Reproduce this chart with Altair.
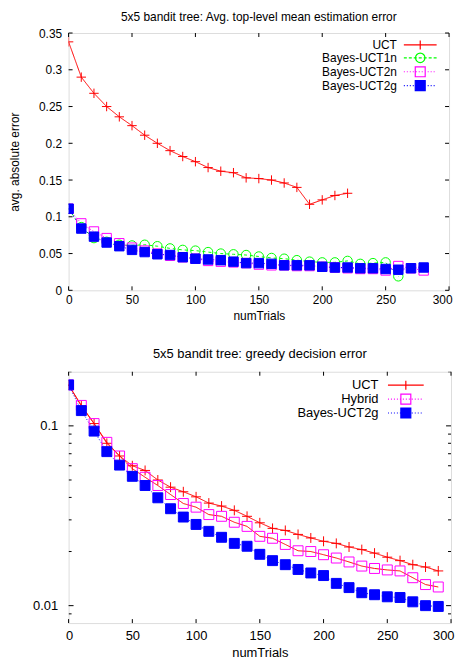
import altair as alt
import pandas as pd

FONT = "Liberation Sans"

# ---------------- data ----------------
top_title = "5x5 bandit tree: Avg. top-level mean estimation error"
bottom_title = "5x5 bandit tree: greedy decision error"
x_title = "numTrials"
y_title_top = "avg. absolute error"

top_series = ["UCT", "Bayes-UCT1n", "Bayes-UCT2n", "Bayes-UCT2g"]
top_colors = ["#ff0000", "#00ff00", "#ff00ff", "#0000ff"]

top_uct_x = list(range(0, 230, 10))
top_uct = [0.338, 0.290, 0.268, 0.250, 0.236, 0.224, 0.211, 0.200, 0.190, 0.182,
           0.175, 0.167, 0.162, 0.160, 0.153, 0.152, 0.150, 0.146, 0.140, 0.117,
           0.123, 0.129, 0.132]
top_1n_x = list(range(0, 270, 10))
top_1n = [0.111, 0.086, 0.071, 0.066, 0.062, 0.061, 0.062, 0.060, 0.057, 0.055,
          0.054, 0.052, 0.050, 0.049, 0.048, 0.046, 0.044, 0.043, 0.041, 0.039,
          0.038, 0.038, 0.040, 0.036, 0.037, 0.038, 0.019]
top_2n_x = list(range(0, 290, 10))
top_2n = [0.111, 0.091, 0.080, 0.071, 0.064, 0.058, 0.054, 0.050, 0.047, 0.045,
          0.043, 0.040, 0.039, 0.038, 0.037, 0.035, 0.034, 0.034, 0.033, 0.033,
          0.032, 0.031, 0.030, 0.029, 0.029, 0.027, 0.033, 0.030, 0.027]
top_2g_x = list(range(0, 290, 10))
top_2g = [0.111, 0.084, 0.073, 0.065, 0.060, 0.055, 0.052, 0.049, 0.048, 0.045,
          0.043, 0.042, 0.041, 0.039, 0.037, 0.037, 0.036, 0.034, 0.034, 0.034,
          0.032, 0.031, 0.031, 0.030, 0.030, 0.029, 0.028, 0.030, 0.031]

bot_series = ["UCT", "Hybrid", "Bayes-UCT2g"]
bot_colors = ["#ff0000", "#ff00ff", "#0000ff"]
bot_x = list(range(0, 300, 10))
bot_uct = [0.169, 0.129, 0.103, 0.080, 0.068, 0.060, 0.0565, 0.050, 0.0456, 0.043,
           0.0403, 0.0372, 0.0358, 0.0339, 0.0314, 0.0289, 0.0269, 0.0262, 0.0249, 0.0238,
           0.0228, 0.0222, 0.0212, 0.0205, 0.0196, 0.0186, 0.0178, 0.0169, 0.0164, 0.0156]
bot_hybrid = [0.169, 0.130, 0.103, 0.081, 0.068, 0.0578, 0.0518, 0.0466, 0.0415, 0.037,
              0.0353, 0.0321, 0.0314, 0.0291, 0.0276, 0.0243, 0.0237, 0.0219, 0.0202, 0.0200,
              0.0192, 0.0184, 0.0175, 0.0166, 0.0161, 0.0158, 0.0156, 0.0143, 0.0131, 0.0127]
bot_2g = [0.169, 0.1216, 0.0935, 0.0719, 0.0605, 0.0524, 0.0466, 0.0398, 0.0346, 0.0311,
          0.0283, 0.0259, 0.0240, 0.0222, 0.0214, 0.0193, 0.0178, 0.0169, 0.0159, 0.0152,
          0.0147, 0.0133, 0.0126, 0.0118, 0.0115, 0.0112, 0.0111, 0.0105, 0.0100, 0.0099]

x_ticks = [0, 50, 100, 150, 200, 250, 300]
top_y_ticks = [0, 0.05, 0.1, 0.15, 0.2, 0.25, 0.3, 0.35]
bot_y_major = [0.01, 0.1]
bot_y_minor = [0.009, 0.02, 0.03, 0.04, 0.05, 0.06, 0.07, 0.08, 0.09, 0.2]


def long_df(pairs):
    rows = []
    for name, xs, ys in pairs:
        for xv, yv in zip(xs, ys):
            rows.append({"series": name, "numTrials": xv, "value": yv})
    return pd.DataFrame(rows)


top_df = long_df([("UCT", top_uct_x, top_uct), ("Bayes-UCT1n", top_1n_x, top_1n),
                  ("Bayes-UCT2n", top_2n_x, top_2n), ("Bayes-UCT2g", top_2g_x, top_2g)])
bot_df = long_df([("UCT", bot_x, bot_uct), ("Hybrid", bot_x, bot_hybrid),
                  ("Bayes-UCT2g", bot_x, bot_2g)])

# ---------------- styles ----------------
PLUS = "M-1,0H1M0,-1V1"
CIRCLE = "M1,0A1,1 0 1,1 -1,0A1,1 0 1,1 1,0"
SQUARE = "M-1,-1H1V1H-1Z"
SOLID = [1, 0]
DASHED = [3, 3]
DOTTED = [1, 2]


def seg_path(half, dash, gap):
    parts = []
    x = -half
    while x < half - 1e-9:
        x2 = min(x + dash, half)
        parts.append("M%.2f,0H%.2f" % (x, x2))
        x += dash + gap
    return "".join(parts)


def legend_symbol(kind, line, half, pad):
    # legend sample: line segment with the marker in its middle (units of 5px);
    # the trailing move-to only reserves some room on the right of the key
    if line == "solid":
        lp = "M%.2f,0H%.2f" % (-half, half)
    elif line == "dashed":
        lp = seg_path(half, 0.6, 0.4)
    else:
        lp = seg_path(half, 0.2, 0.4)
    mk = {"plus": "M0,-0.9V0.9",
          "circle": "M0.95,0A0.95,0.95 0 1,1 -0.95,0A0.95,0.95 0 1,1 0.95,0",
          "square": "M-1,-1H1V1H-1Z"}[kind]
    return lp + mk + "M%.2f,0" % (half + pad)


def panel(df, series, colors, dashes, shapes, fills, leg_syms, W, H, yscale,
          yvalues, ytitle, ytitle_opacity, title, fs, lab_pad_x, x_title_pad, lab_pad_y,
          ytitle_pad, title_off, leg_off, leg_row_pad, leg_label_off, msize, yminor,
          tick_x, tick_major, tick_minor):
    xenc = alt.X("numTrials:Q",
                 scale=alt.Scale(domain=[0, 300], nice=False, zero=False),
                 axis=alt.Axis(values=x_ticks, ticks=False, domain=False, grid=False,
                               labelFont=FONT, labelFontSize=fs, labelColor="black",
                               labelPadding=lab_pad_x, labelFlush=True, labelFlushOffset=3,
                               title=x_title, titleFont=FONT, titleFontSize=fs,
                               titleFontWeight="normal", titleColor="black",
                               titlePadding=x_title_pad))
    yenc = alt.Y("value:Q", scale=yscale,
                 axis=alt.Axis(values=yvalues, format="~g", ticks=False, domain=False,
                               grid=False, labelFont=FONT, labelFontSize=fs,
                               labelColor="black", labelPadding=lab_pad_y, labelFlush=False,
                               title=ytitle, titleFont=FONT, titleFontSize=fs,
                               titleFontWeight="normal", titleColor="black",
                               titleOpacity=ytitle_opacity, titlePadding=ytitle_pad))

    base = alt.Chart(df)
    lines = base.mark_line(strokeWidth=1, clip=True).encode(
        x=xenc, y=yenc,
        color=alt.Color("series:N", scale=alt.Scale(domain=series, range=colors), legend=None),
        strokeDash=alt.StrokeDash("series:N", scale=alt.Scale(domain=series, range=dashes), legend=None),
    )
    points = base.mark_point(strokeWidth=1, opacity=1, size=msize, clip=True).encode(
        x=xenc, y=yenc,
        shape=alt.Shape("series:N", scale=alt.Scale(domain=series, range=shapes), legend=None),
        stroke=alt.Stroke("series:N", scale=alt.Scale(domain=series, range=colors), legend=None),
        fill=alt.Fill("series:N", scale=alt.Scale(domain=series, range=fills), legend=None),
    )
    leg = alt.Legend(orient="top-right", title=None, labelAlign="right",
                     labelOffset={"expr": str(leg_label_off)},
                     symbolSize=100, symbolStrokeWidth=1.2,
                     rowPadding={"expr": str(leg_row_pad)},
                     labelFont=FONT, labelFontSize=fs, labelColor="black",
                     offset=leg_off, padding=0, labelLimit=200)
    legend_layer = base.transform_calculate(lseries="datum.series").transform_filter(
        "false").mark_point(opacity=1, strokeWidth=1.2).encode(
        shape=alt.Shape("lseries:N", scale=alt.Scale(domain=series, range=leg_syms), legend=leg),
        stroke=alt.Stroke("lseries:N", scale=alt.Scale(domain=series, range=colors), legend=leg),
        fill=alt.Fill("lseries:N", scale=alt.Scale(domain=series, range=fills), legend=leg),
    )

    xt = alt.Chart(pd.DataFrame({"numTrials": x_ticks}))
    yt = alt.Chart(pd.DataFrame({"value": yvalues}))
    tick_layers = [
        xt.mark_rule(color="black", strokeWidth=1).encode(x=xenc, y=alt.value(H), y2=alt.value(H - tick_x)),
        xt.mark_rule(color="black", strokeWidth=1).encode(x=xenc, y=alt.value(0), y2=alt.value(tick_x)),
        yt.mark_rule(color="black", strokeWidth=1).encode(y=yenc, x=alt.value(0), x2=alt.value(tick_major)),
        yt.mark_rule(color="black", strokeWidth=1).encode(y=yenc, x=alt.value(W), x2=alt.value(W - tick_major)),
    ]
    if yminor:
        ym = alt.Chart(pd.DataFrame({"value": yminor}))
        tick_layers += [
            ym.mark_rule(color="black", strokeWidth=1, clip=True).encode(y=yenc, x=alt.value(0), x2=alt.value(tick_minor)),
            ym.mark_rule(color="black", strokeWidth=1, clip=True).encode(y=yenc, x=alt.value(W), x2=alt.value(W - tick_minor)),
        ]

    return alt.layer(lines, points, legend_layer, *tick_layers).resolve_scale(
        shape="independent", stroke="independent", fill="independent"
    ).properties(
        width=W, height=H,
        title=alt.TitleParams(title, font=FONT, fontSize=fs, fontWeight="normal",
                              color="black", offset=title_off, frame="group", anchor="middle"),
    )


top = panel(
    top_df, top_series, top_colors, [SOLID, DASHED, DOTTED, DOTTED],
    [PLUS, CIRCLE, SQUARE, SQUARE],
    ["transparent", "transparent", "transparent", "#0000ff"],
    [legend_symbol("plus", "solid", 3.3, 0.7), legend_symbol("circle", "dashed", 3.3, 0.7),
     legend_symbol("square", "dotted", 3.3, 0.7), legend_symbol("square", "dotted", 3.3, 0.7)],
    383, 259, alt.Scale(domain=[0, 0.35], nice=False, zero=True), top_y_ticks,
    y_title_top, 1, top_title, 12, 4, 5, 7, 17, 3, 6, -6, -29.5, 90, None, 4, 4, 2,
)
bottom = panel(
    bot_df, bot_series, bot_colors, [SOLID, DOTTED, DOTTED],
    [PLUS, SQUARE, SQUARE],
    ["transparent", "transparent", "#0000ff"],
    [legend_symbol("plus", "solid", 3.6, 3.6), legend_symbol("square", "dotted", 3.6, 3.6),
     legend_symbol("square", "dotted", 3.6, 3.6)],
    385, 253, alt.Scale(type="log", domain=[0.008, 0.2], nice=False), bot_y_major,
    y_title_top, 0, bottom_title, 13, 7, 4, 11, 2, 10, 7, -4, -34, 100, bot_y_minor, 4, 5, 3,
)

chart = alt.vconcat(top, bottom, spacing=26).properties(padding=0).configure_view(
    stroke="black", strokeWidth=1
).configure(background="white")

chart.save("out.html", embed_options={"renderer": "svg", "actions": False})
